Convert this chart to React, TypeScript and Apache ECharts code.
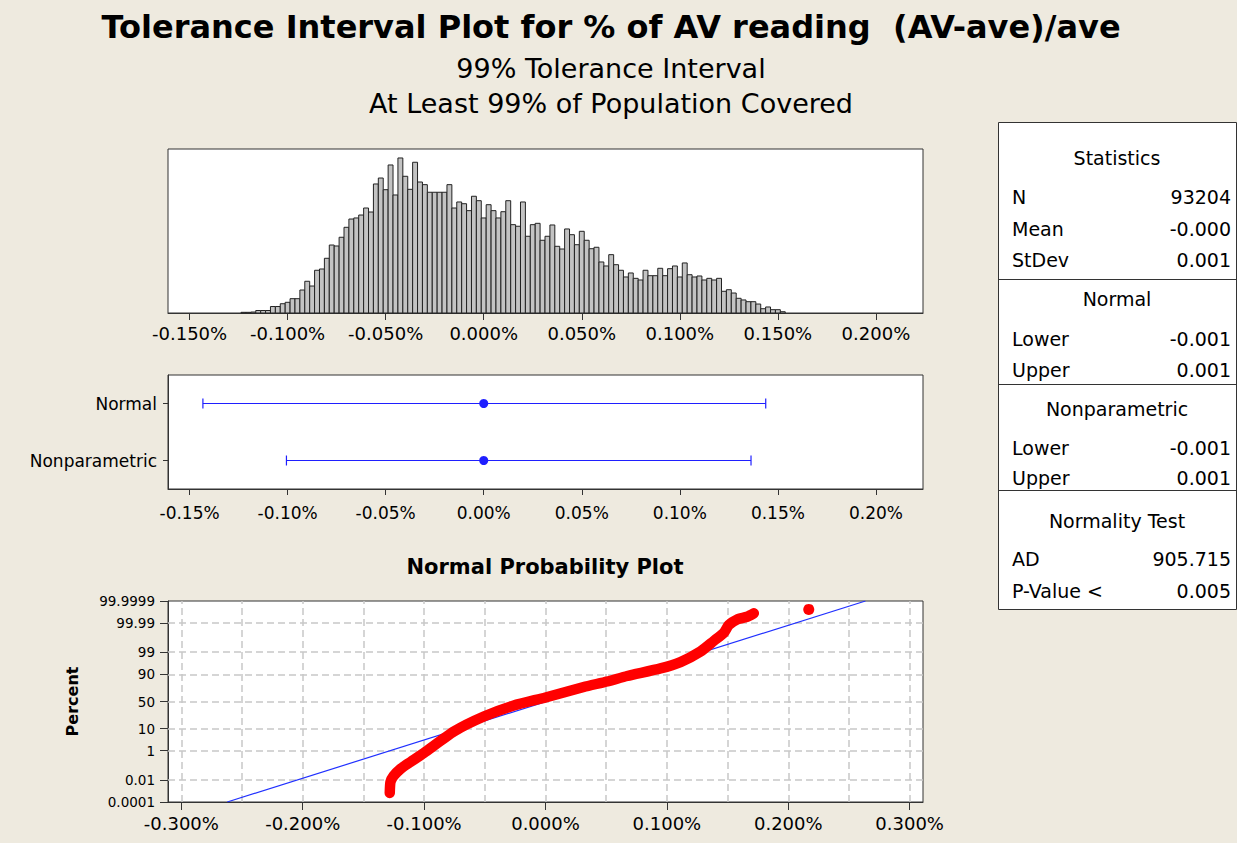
import React, { useEffect, useRef } from 'react';
import * as echarts from 'echarts';

const FONT = '"DejaVu Sans", Verdana, sans-serif';
const BG = '#EEEADF';

// ---------- Histogram ----------
const histFirstMid = -0.1225; // % (bin midpoint of first bin)
const histBinWidth = 0.0025; // %
const histCounts = [
  9, 9, 13, 33, 33, 33, 86, 86, 123, 142, 190, 190, 305, 421, 358, 567, 584, 726, 902, 889, 1005, 1137, 1247, 1261, 1300, 1393, 1340, 1712, 1791,
  1636, 1964, 1566, 2057, 1814, 1641, 2000, 1738, 1703, 1602, 1602, 1602, 1602, 1703, 1393, 1473, 1450, 1358, 1549, 1490, 1261, 1437, 1358, 1261, 1344, 1490, 1172, 1151, 1473,
  1018, 1172, 1190, 965, 1018, 1168, 885, 849, 1115, 1039, 906, 1084, 965, 853, 872, 677, 624, 774, 641, 567, 478, 531, 460, 438, 567, 495, 495, 593, 495,
  588, 624, 478, 664, 508, 478, 491, 438, 460, 438, 460, 288, 309, 265, 195, 173, 150, 150, 119, 57, 80, 44, 44, 17,
];
const histYMax = 2176;
const histTicks = [-0.15, -0.1, -0.05, 0, 0.05, 0.1, 0.15, 0.2];

// ---------- Interval plot ----------
const intervalCategories = ['Normal', 'Nonparametric'];
const intervalLower = [-0.1432, -0.1006];
const intervalCenter = [0.0, 0.0];
const intervalUpper = [0.1438, 0.1363];
const intervalTicks = [-0.15, -0.1, -0.05, 0, 0.05, 0.1, 0.15, 0.2];

// ---------- Normal probability plot ----------
const probX = [-0.1283, -0.1277, -0.1252, -0.1194, -0.1112, -0.1002, -0.0755, -0.0508, -0.0261, 0.0, 0.0315, 0.0508, 0.0673, 0.0947, 0.1112, 0.1277, 0.1386, 0.1469, 0.151, 0.1579, 0.1661, 0.1716];
const probPct = [0.00076, 0.0071, 0.021, 0.072, 0.21, 0.745, 7.8, 23.9, 42.5, 57.5, 75.4, 82.8, 88.6, 94.1, 96.9, 99.1, 99.79, 99.942, 99.985, 99.9947, 99.99694, 99.99847];
const outlierX = [0.2169];
const outlierPct = [99.99934];
const fitLineX = [-0.2622, 0.2636];
const fitLinePct = [0.0001, 99.9999];
const probYTickPct = [0.0001, 0.01, 1, 10, 50, 90, 99, 99.99, 99.9999];
const probYTickLabels = ['0.0001', '0.01', '1', '10', '50', '90', '99', '99.99', '99.9999'];
const probXTicks = [-0.3, -0.2, -0.1, 0, 0.1, 0.2, 0.3];
const probXGrid = [-0.3, -0.25, -0.2, -0.15, -0.1, -0.05, 0, 0.05, 0.1, 0.15, 0.2, 0.25, 0.3];

// ---------- Statistics table ----------
const statsHeader = 'Statistics';
const statsLabels = ['N', 'Mean', 'StDev'];
const statsValues = ['93204', '-0.000', '0.001'];
const normalHeader = 'Normal';
const normalLabels = ['Lower', 'Upper'];
const normalValues = ['-0.001', '0.001'];
const nonparHeader = 'Nonparametric';
const nonparLabels = ['Lower', 'Upper'];
const nonparValues = ['-0.001', '0.001'];
const testHeader = 'Normality Test';
const testLabels = ['AD', 'P-Value <'];
const testValues = ['905.715', '0.005'];

function probit(p: number): number {
  const a = [-3.969683028665376e1, 2.209460984245205e2, -2.759285104469687e2, 1.38357751867269e2, -3.066479806614716e1, 2.506628277459239];
  const b = [-5.447609879822406e1, 1.615858368580409e2, -1.556989798598866e2, 6.680131188771972e1, -1.328068155288572e1];
  const c = [-7.784894002430293e-3, -3.223964580411365e-1, -2.400758277161838, -2.549732539343734, 4.374664141464968, 2.938163982698783];
  const d = [7.784695709041462e-3, 3.224671290700398e-1, 2.445134137142996, 3.754408661907416];
  const pl = 0.02425;
  if (p < pl) {
    const q = Math.sqrt(-2 * Math.log(p));
    return (((((c[0] * q + c[1]) * q + c[2]) * q + c[3]) * q + c[4]) * q + c[5]) / ((((d[0] * q + d[1]) * q + d[2]) * q + d[3]) * q + 1);
  }
  if (p <= 1 - pl) {
    const q = p - 0.5;
    const r = q * q;
    return ((((((a[0] * r + a[1]) * r + a[2]) * r + a[3]) * r + a[4]) * r + a[5]) * q) / (((((b[0] * r + b[1]) * r + b[2]) * r + b[3]) * r + b[4]) * r + 1);
  }
  const q = Math.sqrt(-2 * Math.log(1 - p));
  return -(((((c[0] * q + c[1]) * q + c[2]) * q + c[3]) * q + c[4]) * q + c[5]) / ((((d[0] * q + d[1]) * q + d[2]) * q + d[3]) * q + 1);
}

const pctFmt = (digits: number) => (v: number) => (Math.abs(v) < 1e-9 ? 0 : v).toFixed(digits) + '%';

function txt(text: string, x: number, y: number, size: number, align: string, weight: string = 'normal') {
  return {
    type: 'text',
    x,
    y,
    silent: true,
    style: {
      text,
      fontSize: size,
      fontWeight: weight,
      fontFamily: FONT,
      fill: '#000',
      align,
      verticalAlign: 'middle',
      textAlign: align,
      textVerticalAlign: 'middle',
    },
  };
}

function hline(y: number) {
  return { type: 'line', silent: true, shape: { x1: 998.5, y1: y, x2: 1236.5, y2: y }, style: { stroke: '#333', lineWidth: 1 } };
}

export default function App() {
  const ref = useRef<HTMLDivElement>(null);
  useEffect(() => {
    if (!ref.current) return;
    const chart = echarts.init(ref.current, undefined, { renderer: 'svg' });
    const zMin = probit(probYTickPct[0] / 100);
    const zMax = probit(probYTickPct[probYTickPct.length - 1] / 100);
    const yTickZ = probYTickPct.map((p) => probit(p / 100));
    const yLabelFor = (v: number) => {
      let best = 0;
      for (let i = 1; i < yTickZ.length; i++) if (Math.abs(yTickZ[i] - v) < Math.abs(yTickZ[best] - v)) best = i;
      return probYTickLabels[best];
    };
    const axisColor = '#333';
    const gridBase = { show: true, backgroundColor: '#fff', borderColor: axisColor, borderWidth: 1 };
    const axisLine = { show: true, onZero: false, lineStyle: { color: axisColor } };

    const tableX = 1012;
    const tableR = 1231;
    const tableC = 1117;
    const fs = 19;
    const graphics: any[] = [
      txt('Tolerance Interval Plot for % of AV reading  (AV-ave)/ave', 611, 27, 32, 'center', 'bold'),
      txt('99% Tolerance Interval', 611, 68, 27, 'center'),
      txt('At Least 99% of Population Covered', 611, 103, 27, 'center'),
      txt('Normal Probability Plot', 545, 567, 21, 'center', 'bold'),
      { type: 'rect', silent: true, shape: { x: 998.5, y: 122.5, width: 238, height: 487 }, style: { fill: '#fff', stroke: '#333', lineWidth: 1 } },
      hline(279.5),
      hline(384.5),
      hline(490.5),
      txt(statsHeader, tableC, 158, fs, 'center'),
      txt(normalHeader, tableC, 299, fs, 'center'),
      txt(nonparHeader, tableC, 409, fs, 'center'),
      txt(testHeader, tableC, 521, fs, 'center'),
    ];
    const rowsY = [
      [statsLabels, statsValues, [197, 229, 260]],
      [normalLabels, normalValues, [339, 370]],
      [nonparLabels, nonparValues, [448, 478]],
      [testLabels, testValues, [559, 591]],
    ] as any[];
    rowsY.forEach(([labels, values, ys]) => {
      labels.forEach((l: string, i: number) => {
        graphics.push(txt(l, tableX, ys[i], fs, 'left'));
        graphics.push(txt(values[i], tableR, ys[i], fs, 'right'));
      });
    });

    const option: any = {
      animation: false,
      backgroundColor: BG,
      textStyle: { fontFamily: FONT },
      grid: [
        { ...gridBase, left: 168, top: 149, width: 755, height: 164 },
        { ...gridBase, left: 168, top: 375, width: 755, height: 114 },
        { ...gridBase, left: 168, top: 601, width: 755, height: 201 },
      ],
      xAxis: [
        {
          gridIndex: 0,
          type: 'value',
          min: -0.161,
          max: 0.224,
          axisLine,
          axisTick: { show: true, length: 7, lineStyle: { color: axisColor }, customValues: histTicks },
          axisLabel: { customValues: histTicks, formatter: pctFmt(3), fontSize: 18, color: '#000', margin: 11, fontFamily: FONT },
          splitLine: { show: false },
        },
        {
          gridIndex: 1,
          type: 'value',
          min: -0.161,
          max: 0.224,
          axisLine,
          axisTick: { show: true, length: 6, lineStyle: { color: axisColor }, customValues: intervalTicks },
          axisLabel: { customValues: intervalTicks, formatter: pctFmt(2), fontSize: 17, color: '#000', margin: 15, fontFamily: FONT },
          splitLine: { show: false },
        },
        {
          gridIndex: 2,
          type: 'value',
          min: -0.311,
          max: 0.311,
          axisLine,
          axisTick: { show: true, length: 8, lineStyle: { color: axisColor }, customValues: probXTicks },
          axisLabel: { customValues: probXTicks, formatter: pctFmt(3), fontSize: 18, color: '#000', margin: 12, fontFamily: FONT },
          splitLine: { show: false },
        },
      ],
      yAxis: [
        { gridIndex: 0, type: 'value', min: 0, max: histYMax, show: false, splitLine: { show: false } },
        {
          gridIndex: 1,
          type: 'category',
          data: intervalCategories,
          inverse: true,
          axisLine,
          axisTick: { show: true, alignWithLabel: true, length: 5, lineStyle: { color: axisColor } },
          axisLabel: { fontSize: 17, color: '#000', margin: 11, fontFamily: FONT },
          splitLine: { show: false },
        },
        {
          gridIndex: 2,
          type: 'value',
          min: zMin,
          max: zMax,
          name: 'Percent',
          nameLocation: 'middle',
          nameGap: 88,
          nameTextStyle: { fontSize: 16, fontWeight: 'bold', color: '#000', fontFamily: FONT },
          axisLine,
          axisTick: { show: true, length: 8, lineStyle: { color: axisColor }, customValues: yTickZ },
          axisLabel: { customValues: yTickZ, formatter: yLabelFor, fontSize: 13.5, color: '#000', margin: 13, fontFamily: FONT },
          splitLine: { show: false },
        },
      ],
      series: [
        {
          type: 'custom',
          xAxisIndex: 0,
          yAxisIndex: 0,
          data: histCounts.map((c, i) => [histFirstMid + i * histBinWidth, c]),
          encode: { x: 0, y: 1 },
          renderItem: (params: any, api: any) => {
            const x = api.value(0);
            const c = api.value(1);
            const p0 = api.coord([x - histBinWidth / 2, c]);
            const p1 = api.coord([x + histBinWidth / 2, 0]);
            return {
              type: 'rect',
              shape: { x: p0[0], y: p0[1], width: p1[0] - p0[0], height: p1[1] - p0[1] },
              style: { fill: '#C3C3C3', stroke: '#222', lineWidth: 1 },
            };
          },
        },
        {
          type: 'custom',
          xAxisIndex: 1,
          yAxisIndex: 1,
          data: intervalCategories.map((_, i) => [intervalLower[i], intervalCenter[i], intervalUpper[i], i]),
          encode: { x: [0, 1, 2], y: 3 },
          renderItem: (params: any, api: any) => {
            const cat = api.value(3);
            const pl = api.coord([api.value(0), cat]);
            const pc = api.coord([api.value(1), cat]);
            const pu = api.coord([api.value(2), cat]);
            const col = '#1f1fff';
            const st = { stroke: col, lineWidth: 1.2 };
            return {
              type: 'group',
              children: [
                { type: 'line', shape: { x1: pl[0], y1: pl[1], x2: pu[0], y2: pu[1] }, style: st },
                { type: 'line', shape: { x1: pl[0], y1: pl[1] - 5, x2: pl[0], y2: pl[1] + 5 }, style: st },
                { type: 'line', shape: { x1: pu[0], y1: pu[1] - 5, x2: pu[0], y2: pu[1] + 5 }, style: st },
                { type: 'circle', shape: { cx: pc[0], cy: pc[1], r: 4.5 }, style: { fill: col } },
              ],
            };
          },
        },
        {
          type: 'line',
          xAxisIndex: 2,
          yAxisIndex: 2,
          z: 1,
          data: [[probXGrid[0], 0]],
          symbol: 'none',
          lineStyle: { opacity: 0 },
          silent: true,
          markLine: {
            z: 1,
            silent: true,
            symbol: ['none', 'none'],
            label: { show: false },
            lineStyle: { color: '#C8C8C8', type: [7, 4], width: 1.5 },
            data: [
              ...probXGrid.map((v) => ({ xAxis: v })),
              ...yTickZ.slice(1, yTickZ.length - 1).map((z) => ({ yAxis: z })),
            ],
          },
        },
        {
          type: 'line',
          xAxisIndex: 2,
          yAxisIndex: 2,
          z: 3,
          data: fitLineX.map((x, i) => [x, probit(fitLinePct[i] / 100)]),
          symbol: 'none',
          lineStyle: { color: '#2030ff', width: 1.2 },
          silent: true,
        },
        {
          type: 'line',
          xAxisIndex: 2,
          yAxisIndex: 2,
          z: 4,
          data: probX.map((x, i) => [x, probit(probPct[i] / 100)]),
          symbol: 'none',
          smooth: 0.2,
          lineStyle: { color: '#FF0000', width: 10.5, cap: 'round', join: 'round' },
          silent: true,
        },
        {
          type: 'scatter',
          xAxisIndex: 2,
          yAxisIndex: 2,
          z: 4,
          data: outlierX.map((x, i) => [x, probit(outlierPct[i] / 100)]),
          symbolSize: 11,
          itemStyle: { color: '#FF0000', opacity: 1 },
          silent: true,
        },
      ],
      graphic: graphics,
    };
    chart.setOption(option);
    return () => chart.dispose();
  }, []);
  return <div ref={ref} style={{ position: 'fixed', left: 0, top: 0, width: 1237, height: 843 }} />;
}
